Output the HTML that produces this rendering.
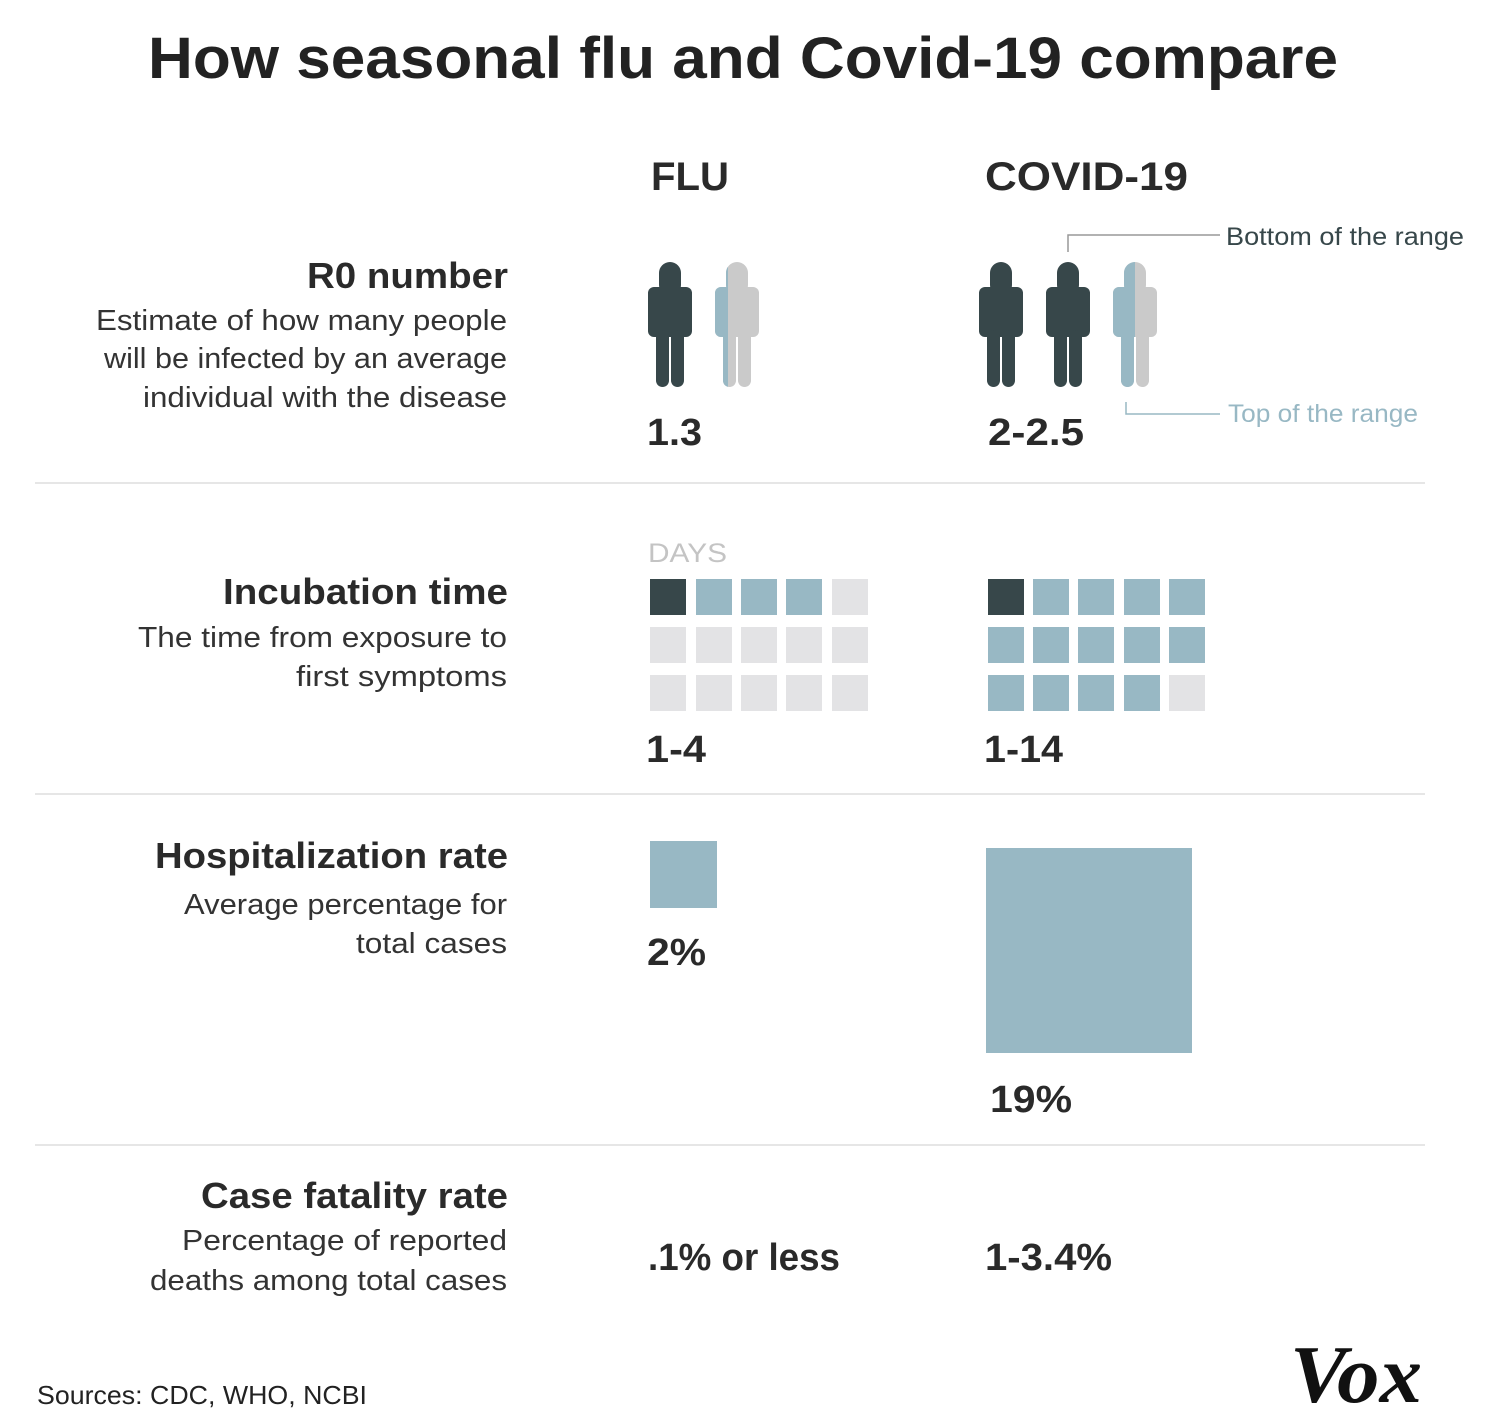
<!DOCTYPE html>
<html><head><meta charset="utf-8"><style>
html,body{margin:0;padding:0;background:#fff;}
svg{display:block;}
text{font-family:"Liberation Sans",sans-serif;}
</style></head><body>
<svg width="1500" height="1426" viewBox="0 0 1500 1426" xmlns="http://www.w3.org/2000/svg">
<defs>
<g id="p">
<rect x="11" y="0" width="22" height="34" rx="11"/>
<rect x="0" y="25" width="44" height="50" rx="6"/>
<rect x="8" y="68" width="13" height="57" rx="6.5"/>
<rect x="23" y="68" width="13" height="57" rx="6.5"/>
</g>
<clipPath id="c1"><rect x="0" y="0" width="13" height="130"/></clipPath>
<clipPath id="c2"><rect x="0" y="0" width="22" height="130"/></clipPath>
</defs>
<rect width="1500" height="1426" fill="#fff"/>
<text x="148" y="78" font-size="58" font-weight="bold" fill="#222" textLength="1190" lengthAdjust="spacingAndGlyphs">How seasonal flu and Covid-19 compare</text>
<text x="651" y="190" font-size="40" font-weight="bold" fill="#2a2a2a" textLength="78" lengthAdjust="spacingAndGlyphs">FLU</text>
<text x="985" y="190" font-size="40" font-weight="bold" fill="#2a2a2a" textLength="203" lengthAdjust="spacingAndGlyphs">COVID-19</text>

<g fill="#2a2a2a" text-anchor="end">
<text x="508" y="288" font-size="36" font-weight="bold" textLength="201" lengthAdjust="spacingAndGlyphs">R0 number</text>
<text x="507" y="330" font-size="29" fill="#333" textLength="411" lengthAdjust="spacingAndGlyphs">Estimate of how many people</text>
<text x="507" y="368" font-size="29" fill="#333" textLength="403" lengthAdjust="spacingAndGlyphs">will be infected by an average</text>
<text x="507" y="407" font-size="29" fill="#333" textLength="364" lengthAdjust="spacingAndGlyphs">individual with the disease</text>
<text x="508" y="604" font-size="36" font-weight="bold" textLength="285" lengthAdjust="spacingAndGlyphs">Incubation time</text>
<text x="507" y="647" font-size="29" fill="#333" textLength="369" lengthAdjust="spacingAndGlyphs">The time from exposure to</text>
<text x="507" y="686" font-size="29" fill="#333" textLength="211" lengthAdjust="spacingAndGlyphs">first symptoms</text>
<text x="508" y="868" font-size="36" font-weight="bold" textLength="353" lengthAdjust="spacingAndGlyphs">Hospitalization rate</text>
<text x="507" y="914" font-size="29" fill="#333" textLength="323" lengthAdjust="spacingAndGlyphs">Average percentage for</text>
<text x="507" y="953" font-size="29" fill="#333" textLength="151" lengthAdjust="spacingAndGlyphs">total cases</text>
<text x="508" y="1208" font-size="36" font-weight="bold" textLength="307" lengthAdjust="spacingAndGlyphs">Case fatality rate</text>
<text x="507" y="1250" font-size="29" fill="#333" textLength="325" lengthAdjust="spacingAndGlyphs">Percentage of reported</text>
<text x="507" y="1290" font-size="29" fill="#333" textLength="357" lengthAdjust="spacingAndGlyphs">deaths among total cases</text>
</g>

<!-- people -->
<use href="#p" x="648" y="262" fill="#37474a"/>
<g transform="translate(715,262)"><use href="#p" fill="#cacaca"/><use href="#p" fill="#98b8c4" clip-path="url(#c1)"/></g>
<use href="#p" x="979" y="262" fill="#37474a"/>
<use href="#p" x="1046" y="262" fill="#37474a"/>
<g transform="translate(1113,262)"><use href="#p" fill="#cacaca"/><use href="#p" fill="#98b8c4" clip-path="url(#c2)"/></g>

<polyline points="1068,252 1068,235 1220,235" fill="none" stroke="#999" stroke-width="1.5"/>
<polyline points="1126,402 1126,414 1220,414" fill="none" stroke="#98b8c4" stroke-width="1.5"/>
<text x="1226" y="245" font-size="25" fill="#37474a" textLength="238" lengthAdjust="spacingAndGlyphs">Bottom of the range</text>
<text x="1228" y="422" font-size="25" fill="#98b8c4" textLength="190" lengthAdjust="spacingAndGlyphs">Top of the range</text>

<g font-size="38" font-weight="bold" fill="#2a2a2a">
<text x="647" y="445" textLength="55" lengthAdjust="spacingAndGlyphs">1.3</text>
<text x="988" y="445" textLength="96" lengthAdjust="spacingAndGlyphs">2-2.5</text>
<text x="646" y="762" textLength="60" lengthAdjust="spacingAndGlyphs">1-4</text>
<text x="984" y="762" textLength="79" lengthAdjust="spacingAndGlyphs">1-14</text>
<text x="647" y="965" textLength="59" lengthAdjust="spacingAndGlyphs">2%</text>
<text x="990" y="1112" textLength="82" lengthAdjust="spacingAndGlyphs">19%</text>
<text x="648" y="1270" textLength="192" lengthAdjust="spacingAndGlyphs">.1% or less</text>
<text x="985" y="1270" textLength="127" lengthAdjust="spacingAndGlyphs">1-3.4%</text>
</g>

<g stroke="#dedede" stroke-width="1.5">
<line x1="35" y1="483" x2="1425" y2="483"/>
<line x1="35" y1="794" x2="1425" y2="794"/>
<line x1="35" y1="1145" x2="1425" y2="1145"/>
</g>

<text x="648" y="562" font-size="27" fill="#c4c4c4" textLength="79" lengthAdjust="spacingAndGlyphs">DAYS</text>

<!-- flu squares -->
<g>
<rect x="650" y="579" width="36" height="36" fill="#37474a"/>
<rect x="696" y="579" width="36" height="36" fill="#98b8c4"/>
<rect x="741" y="579" width="36" height="36" fill="#98b8c4"/>
<rect x="786" y="579" width="36" height="36" fill="#98b8c4"/>
<rect x="832" y="579" width="36" height="36" fill="#e3e3e5"/>
<g fill="#e3e3e5">
<rect x="650" y="627" width="36" height="36"/><rect x="696" y="627" width="36" height="36"/><rect x="741" y="627" width="36" height="36"/><rect x="786" y="627" width="36" height="36"/><rect x="832" y="627" width="36" height="36"/>
<rect x="650" y="675" width="36" height="36"/><rect x="696" y="675" width="36" height="36"/><rect x="741" y="675" width="36" height="36"/><rect x="786" y="675" width="36" height="36"/><rect x="832" y="675" width="36" height="36"/>
</g>
</g>
<!-- covid squares -->
<g fill="#98b8c4">
<rect x="988" y="579" width="36" height="36" fill="#37474a"/>
<rect x="1033" y="579" width="36" height="36"/><rect x="1078" y="579" width="36" height="36"/><rect x="1124" y="579" width="36" height="36"/><rect x="1169" y="579" width="36" height="36"/>
<rect x="988" y="627" width="36" height="36"/><rect x="1033" y="627" width="36" height="36"/><rect x="1078" y="627" width="36" height="36"/><rect x="1124" y="627" width="36" height="36"/><rect x="1169" y="627" width="36" height="36"/>
<rect x="988" y="675" width="36" height="36"/><rect x="1033" y="675" width="36" height="36"/><rect x="1078" y="675" width="36" height="36"/><rect x="1124" y="675" width="36" height="36"/>
<rect x="1169" y="675" width="36" height="36" fill="#e3e3e5"/>
</g>

<rect x="650" y="841" width="67" height="67" fill="#98b8c4"/>
<rect x="986" y="848" width="206" height="205" fill="#98b8c4"/>

<text x="37" y="1404" font-size="26" fill="#222" textLength="330" lengthAdjust="spacingAndGlyphs">Sources: CDC, WHO,  NCBI</text>
<text x="1290" y="1402" font-size="82" font-weight="bold" font-style="italic" fill="#111" style="font-family:'Liberation Serif',serif" textLength="132" lengthAdjust="spacingAndGlyphs">Vox</text>
</svg>
</body></html>
